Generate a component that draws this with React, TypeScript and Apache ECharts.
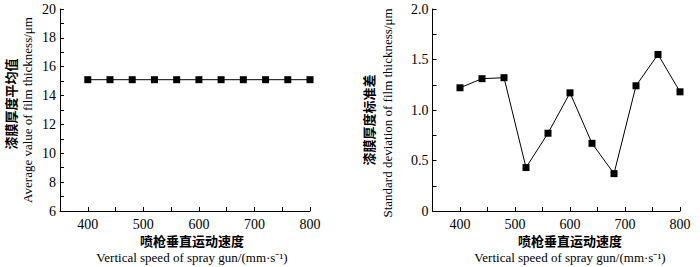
import React, { useEffect, useRef } from "react";
import * as echarts from "echarts";

const speeds = [400, 440, 480, 520, 560, 600, 640, 680, 720, 760, 800];
const avgThickness = [15.1, 15.1, 15.1, 15.1, 15.1, 15.1, 15.1, 15.1, 15.1, 15.1, 15.1];
const stdDev = [1.22, 1.31, 1.32, 0.43, 0.77, 1.17, 0.67, 0.37, 1.24, 1.55, 1.18];

const xTitleCn = "喷枪垂直运动速度";
const xTitleEn = "Vertical speed of spray gun/(mm·s⁻¹)";
const yTitleCnLeft = "漆膜厚度平均值";
const yTitleEnLeft = "Average value of film thickness/μm";
const yTitleCnRight = "漆膜厚度标准差";
const yTitleEnRight = "Standard deviation of film thickness/μm";

const SERIF = '"Liberation Serif", "Times New Roman", serif';
const CJK = '"Noto Sans CJK SC", sans-serif';

export default function App() {
  const ref = useRef<HTMLDivElement>(null);
  useEffect(() => {
    if (!ref.current) return;
    const chart = echarts.init(ref.current, undefined, { renderer: "svg" });
    const axisCommon = {
      axisLine: { show: true, onZero: false, lineStyle: { color: "#000", width: 1 } },
      axisTick: { show: true, inside: true, length: 4, lineStyle: { color: "#000", width: 1 } },
      splitLine: { show: false },
      axisLabel: { color: "#000", fontFamily: SERIF, fontSize: 14 },
    };
    const xAxisFor = (gridIndex: number) => ({
      type: "value",
      gridIndex,
      min: 350,
      max: 800,
      interval: 50,
      ...axisCommon,
      axisLabel: {
        ...axisCommon.axisLabel,
        margin: 6,
        showMinLabel: true,
        formatter: (v: number) => (v % 100 === 0 ? String(v) : ""),
      },
    });
    const pairs = (ys: number[]) => speeds.map((s, i) => [s, ys[i]]);
    const seriesStyle = {
      type: "line",
      symbol: "rect",
      symbolSize: 7,
      lineStyle: { color: "#000", width: 1 },
      itemStyle: { color: "#000" },
    };
    const titleText = (x: number, y: number, text: string, font: string, rot = 0) => ({
      type: "text",
      x,
      y,
      rotation: rot,
      style: {
        text,
        font,
        fill: "#000",
        textAlign: "center",
        textVerticalAlign: "middle",
      },
    });
    chart.setOption({
      animation: false,
      backgroundColor: "#fff",
      grid: [
        { left: 60, right: 390, top: 9, bottom: 56 },
        { left: 432.5, right: 20, top: 9, bottom: 56 },
      ],
      xAxis: [xAxisFor(0), xAxisFor(1)],
      yAxis: [
        {
          type: "value",
          gridIndex: 0,
          min: 6,
          max: 20,
          interval: 1,
          ...axisCommon,
          axisLabel: {
            ...axisCommon.axisLabel,
            margin: 4,
            formatter: (v: number) => (v % 2 === 0 ? String(v) : ""),
          },
        },
        {
          type: "value",
          gridIndex: 1,
          min: 0,
          max: 2,
          interval: 0.25,
          ...axisCommon,
          axisLabel: {
            ...axisCommon.axisLabel,
            margin: 4,
            formatter: (v: number) =>
              Math.abs((v * 2) - Math.round(v * 2)) < 1e-6 ? (v === 0 ? "0" : v.toFixed(1)) : "",
          },
        },
      ],
      series: [
        { ...seriesStyle, xAxisIndex: 0, yAxisIndex: 0, data: pairs(avgThickness) },
        { ...seriesStyle, xAxisIndex: 1, yAxisIndex: 1, data: pairs(stdDev) },
      ],
      graphic: [
        titleText(192, 240, xTitleCn, `bold 13px ${CJK}`),
        titleText(192, 257, xTitleEn, `13px ${SERIF}`),
        titleText(570, 240, xTitleCn, `bold 13px ${CJK}`),
        titleText(570, 257, xTitleEn, `13px ${SERIF}`),
        titleText(10, 104, yTitleCnLeft, `bold 13px ${CJK}`, Math.PI / 2),
        titleText(27, 110, yTitleEnLeft, `13px ${SERIF}`, Math.PI / 2),
        titleText(368, 120, yTitleCnRight, `bold 13px ${CJK}`, Math.PI / 2),
        titleText(387, 113, yTitleEnRight, `13px ${SERIF}`, Math.PI / 2),
      ],
    });
    return () => chart.dispose();
  }, []);
  return (
    <div
      ref={ref}
      style={{ position: "fixed", left: 0, top: 0, width: 700, height: 267 }}
    />
  );
}
